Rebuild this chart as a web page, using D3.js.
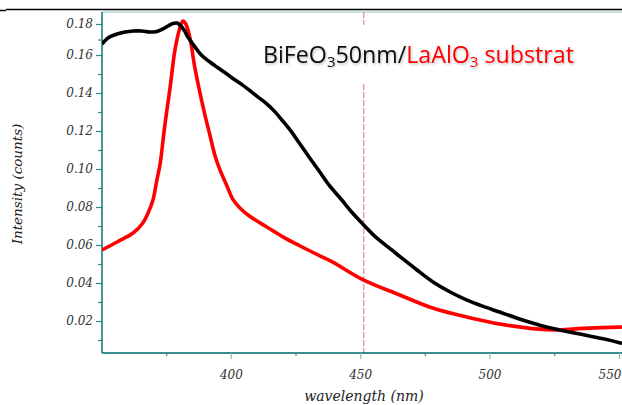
<!DOCTYPE html>
<html>
<head>
<meta charset="utf-8">
<script src="https://cdn.jsdelivr.net/npm/d3@7"></script>
<style>
  body { margin: 0; background: #fff; }
  svg { display: block; }
</style>
</head>
<body>
<div id="chart"></div>
<script>
// film (black) spectrum, wavelength in nm / intensity
var filmWl = [350.2, 352.5, 356.0, 359.1, 362.2, 365.6, 368.7, 371.4, 373.8, 375.7, 377.6, 379.2, 380.3, 381.9, 383.4,
  385.3, 387.3, 389.2, 391.9, 394.6, 397.7, 400.8, 404.3, 407.3, 410.4, 413.9, 417.0, 420.1, 423.6, 426.6,
  430.5, 434.4, 438.2, 442.9, 446.7, 451.0, 455.6, 460.6, 465.3, 471.8, 478.0, 484.6, 491.1, 497.3, 503.9,
  510.4, 516.6, 522.0, 527.0, 532.8, 538.6, 544.4, 550.2, 551.2];
var filmVal = [0.1671, 0.1710, 0.1735, 0.1748, 0.1755, 0.1755, 0.1748, 0.1752, 0.1768, 0.1787, 0.1803, 0.1806, 0.1794, 0.1761, 0.1716,
  0.1671, 0.1626, 0.1592, 0.1563, 0.1537, 0.1508, 0.1476, 0.1444, 0.1413, 0.1380, 0.1343, 0.1302, 0.1252, 0.1193, 0.1134,
  0.1058, 0.0984, 0.0911, 0.0837, 0.0774, 0.0711, 0.0647, 0.0591, 0.0540, 0.0470, 0.0407, 0.0354, 0.0311, 0.0278, 0.0247,
  0.0216, 0.0189, 0.0168, 0.0153, 0.0137, 0.0121, 0.0105, 0.0086, 0.0082];

// substrate (red) spectrum
var subsWl = [350.2, 356.0, 362.2, 366.0, 368.0, 369.9, 371.4, 372.6, 374.5, 376.5, 378.4, 380.3, 381.5, 382.6, 384.2,
  386.1, 388.0, 390.0, 391.9, 393.8, 395.8, 398.5, 400.8, 403.5, 407.3, 413.9, 420.1, 426.6, 434.4, 439.4,
  451.0, 465.3, 478.0, 491.1, 503.9, 516.6, 527.0, 535.9, 550.2, 551.2];
var subsVal = [0.0574, 0.0616, 0.0663, 0.0716, 0.0768, 0.0837, 0.0942, 0.1021, 0.1232, 0.1426, 0.1632, 0.1774, 0.1819, 0.1800, 0.1710,
  0.1532, 0.1405, 0.1284, 0.1179, 0.1074, 0.0995, 0.0911, 0.0840, 0.0795, 0.0751, 0.0695, 0.0643, 0.0596, 0.0543, 0.0510,
  0.0418, 0.0337, 0.0268, 0.0221, 0.0184, 0.0160, 0.0153, 0.0161, 0.0168, 0.0168];

var xMajor = [400, 450, 500, 550];
var xMinor = [375, 425, 475, 525];
var yMajor = [0.02, 0.04, 0.06, 0.08, 0.10, 0.12, 0.14, 0.16, 0.18];
var yMinor = [0.01, 0.03, 0.05, 0.07, 0.09, 0.11, 0.13, 0.15, 0.17];
var markerWl = 451.4;

var width = 622, height = 405;
var pLeft = 102, pRight = 622, pTop = 12, pBottom = 353;
var teal = "#2f8784";

var svg = d3.select("#chart").append("svg")
  .attr("width", width)
  .attr("height", height);

var defs = svg.append("defs");
defs.append("clipPath").attr("id", "plotclip")
  .append("rect").attr("x", pLeft).attr("y", pTop)
  .attr("width", pRight - pLeft).attr("height", pBottom - pTop);
var shadow = defs.append("filter").attr("id", "shadow")
  .attr("x", "-5%").attr("y", "-20%").attr("width", "110%").attr("height", "140%");
shadow.append("feDropShadow").attr("dx", 1).attr("dy", 1.5)
  .attr("stdDeviation", 1).attr("flood-color", "#000").attr("flood-opacity", 0.25);

var x = d3.scaleLinear().domain([350.2, 551.2]).range([pLeft, pRight]);
// the picture's top end is a bit squeezed, so the scale has a bend at 0.16
var y = d3.scaleLinear().domain([0.00316, 0.16, 0.18, 0.1877]).range([pBottom, 55, 24, pTop]);

// black line across the very top
svg.append("line").attr("x1", 6).attr("x2", width).attr("y1", 9.5).attr("y2", 9.5)
  .attr("stroke", "#000").attr("stroke-width", 1.6);
svg.append("line").attr("x1", 0).attr("x2", 6).attr("y1", 10.5).attr("y2", 10.5)
  .attr("stroke", "#000").attr("stroke-width", 1.5);
// top frame
svg.append("line").attr("x1", pLeft).attr("x2", pRight).attr("y1", pTop).attr("y2", pTop)
  .attr("stroke", "#8cc4c2").attr("stroke-width", 1);

// dashed marker
svg.append("line")
  .attr("x1", x(markerWl)).attr("x2", x(markerWl))
  .attr("y1", pTop).attr("y2", pBottom)
  .attr("stroke", "#e06d8a").attr("stroke-width", 1)
  .attr("stroke-dasharray", "6,2");

// axes
function styleAxis(g) {
  g.select(".domain").attr("stroke", teal).attr("stroke-width", 1.3);
  g.selectAll(".tick line").attr("stroke", teal).attr("stroke-width", 1.2);
  g.selectAll(".tick text")
    .attr("fill", "#333")
    .style("font-family", "'DejaVu Serif', serif")
    .style("font-style", "italic")
    .style("font-size", "12px");
}

var yAxisMinor = svg.append("g").attr("transform", "translate(" + pLeft + ",0)")
  .call(d3.axisLeft(y).tickValues(yMinor).tickSize(4).tickFormat(""));
var yAxis = svg.append("g").attr("transform", "translate(" + pLeft + ",0)")
  .call(d3.axisLeft(y).tickValues(yMajor).tickSize(6).tickPadding(3).tickFormat(d3.format(".2f")));
var xAxisMinor = svg.append("g").attr("transform", "translate(0," + pBottom + ")")
  .call(d3.axisBottom(x).tickValues(xMinor).tickSize(3).tickFormat(""));
var xAxis = svg.append("g").attr("transform", "translate(0," + pBottom + ")")
  .call(d3.axisBottom(x).tickValues(xMajor).tickSize(6).tickPadding(11).tickFormat(d3.format("d")));
[yAxisMinor, yAxis, xAxisMinor, xAxis].forEach(styleAxis);
yAxisMinor.select(".domain").attr("d", "M0," + pTop + "V" + pBottom);
yAxis.select(".domain").attr("d", "M0," + pTop + "V" + pBottom);
xAxis.select(".domain").attr("d", "M" + pLeft + ",0H" + pRight);
xAxisMinor.select(".domain").attr("d", "M" + pLeft + ",0H" + pRight);
xAxis.selectAll(".tick line").attr("stroke", "#86c0c0");
// last label sits against the right edge
xAxis.selectAll(".tick text").filter(function(d){ return d === 550; })
  .attr("text-anchor", "end").attr("x", width - x(550) - 1);

// axis titles
svg.append("text")
  .attr("x", 364).attr("y", 401)
  .attr("text-anchor", "middle")
  .attr("fill", "#222")
  .style("font-family", "'DejaVu Serif', serif")
  .style("font-style", "italic")
  .style("font-size", "14px")
  .text("wavelength (nm)");
svg.append("text")
  .attr("transform", "translate(22,184) rotate(-90)")
  .attr("text-anchor", "middle")
  .attr("fill", "#222")
  .style("font-family", "'DejaVu Serif', serif")
  .style("font-style", "italic")
  .style("font-size", "13.5px")
  .text("Intensity (counts)");

// curves
var plot = svg.append("g").attr("clip-path", "url(#plotclip)");
var line = d3.line()
  .x(function(d){ return x(d[0]); })
  .y(function(d){ return y(d[1]); })
  .curve(d3.curveCatmullRom.alpha(0.5));

plot.append("path")
  .datum(d3.zip(subsWl, subsVal))
  .attr("d", line)
  .attr("fill", "none")
  .attr("stroke", "#ff0000")
  .attr("stroke-width", 3.6)
  .attr("stroke-linejoin", "round");
plot.append("path")
  .datum(d3.zip(filmWl, filmVal))
  .attr("d", line)
  .attr("fill", "none")
  .attr("stroke", "#000")
  .attr("stroke-width", 3.6)
  .attr("stroke-linejoin", "round");

// title with white box behind it
svg.append("rect")
  .attr("x", 256).attr("y", 25).attr("width", 330).attr("height", 58)
  .attr("fill", "#fff");
var title = svg.append("text")
  .attr("x", 263).attr("y", 63)
  .attr("filter", "url(#shadow)")
  .style("font-family", "'Open Sans', 'Liberation Sans', sans-serif")
  .style("font-size", "22px");
title.append("tspan").attr("fill", "#111").text("BiFeO");
title.append("tspan").attr("fill", "#111").attr("dy", 4).style("font-size", "15px").text("3");
title.append("tspan").attr("fill", "#111").attr("dy", -4).text("50nm/");
title.append("tspan").attr("fill", "#ff0000").text("LaAlO");
title.append("tspan").attr("fill", "#ff0000").attr("dy", 4).style("font-size", "15px").text("3");
title.append("tspan").attr("fill", "#ff0000").attr("dy", -4).text(" substrat");
// stretch to the width it has in the picture
var tw = title.node().getComputedTextLength();
title.style("font-size", (22 * 312 / tw) + "px");
</script>
</body>
</html>
